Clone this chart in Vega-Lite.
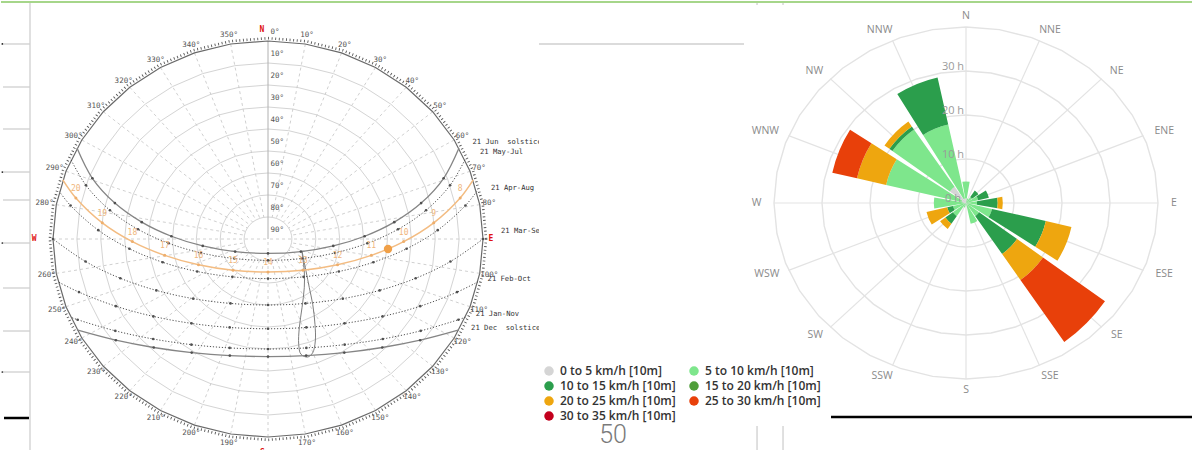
{
"$schema":"https://vega.github.io/schema/vega-lite/v6.json",
"padding":0,"background":"white","bounds":"flush","spacing":200,
"config":{"view":{"stroke":null}},
"resolve":{"scale":{"color":"independent","size":"independent","x":"independent","y":"independent"},"legend":{"color":"independent"}},
"datasets":{
"paths":[
{"c":"jun","h":-104.5,"x":79.95,"y":41.34},{"c":"jun","h":-90,"x":73.52,"y":27.6},{"c":"jun","h":-75,"x":64.1,"y":16.33},{"c":"jun","h":-60,"x":52.85,"y":7.66},{"c":"jun","h":-45,"x":40.45,"y":1.25},{"c":"jun","h":-30,"x":27.32,"y":-3.14},{"c":"jun","h":-15,"x":13.76,"y":-5.72},{"c":"jun","h":0,"x":0,"y":-6.56},{"c":"jun","h":15,"x":-13.76,"y":-5.72},{"c":"jun","h":30,"x":-27.32,"y":-3.14},{"c":"jun","h":45,"x":-40.45,"y":1.25},{"c":"jun","h":60,"x":-52.85,"y":7.66},{"c":"jun","h":75,"x":-64.1,"y":16.33},{"c":"jun","h":90,"x":-73.52,"y":27.6},{"c":"jun","h":104.5,"x":-79.95,"y":41.34},
{"c":"may","h":-102.3,"x":82.46,"y":36.05},{"c":"may","h":-90,"x":76.2,"y":24.41},{"c":"may","h":-75,"x":66.16,"y":13.07},{"c":"may","h":-60,"x":54.4,"y":4.41},{"c":"may","h":-45,"x":41.56,"y":-1.95},{"c":"may","h":-30,"x":28.03,"y":-6.32},{"c":"may","h":-15,"x":14.1,"y":-8.87},{"c":"may","h":0,"x":0,"y":-9.7},{"c":"may","h":15,"x":-14.1,"y":-8.87},{"c":"may","h":30,"x":-28.03,"y":-6.32},{"c":"may","h":45,"x":-41.56,"y":-1.95},{"c":"may","h":60,"x":-54.4,"y":4.41},{"c":"may","h":75,"x":-66.16,"y":13.07},{"c":"may","h":90,"x":-76.2,"y":24.41},{"c":"may","h":102.3,"x":-82.46,"y":36.05},
{"c":"cur","h":-98.9,"x":85.89,"y":26.89},{"c":"cur","h":-90,"x":80.43,"y":18.66,"t":"8"},{"c":"cur","h":-75,"x":69.37,"y":7.37,"t":"9"},{"c":"cur","h":-60,"x":56.77,"y":-1.18,"t":"10"},{"c":"cur","h":-45,"x":43.23,"y":-7.43,"t":"11"},{"c":"cur","h":-30,"x":29.1,"y":-11.7,"t":"12"},{"c":"cur","h":-15,"x":14.63,"y":-14.19,"t":"13"},{"c":"cur","h":0,"x":0,"y":-15,"t":"14"},{"c":"cur","h":15,"x":-14.63,"y":-14.19,"t":"15"},{"c":"cur","h":30,"x":-29.1,"y":-11.7,"t":"16"},{"c":"cur","h":45,"x":-43.23,"y":-7.43,"t":"17"},{"c":"cur","h":60,"x":-56.77,"y":-1.18,"t":"18"},{"c":"cur","h":75,"x":-69.37,"y":7.37,"t":"19"},{"c":"cur","h":90,"x":-80.43,"y":18.66,"t":"20"},{"c":"cur","h":98.9,"x":-85.89,"y":26.89},
{"c":"apr","h":-97.05,"x":87.36,"y":21.6},{"c":"apr","h":-90,"x":82.64,"y":15.21},{"c":"apr","h":-75,"x":71.03,"y":4.01},{"c":"apr","h":-60,"x":58.0,"y":-4.42},{"c":"apr","h":-45,"x":44.09,"y":-10.57},{"c":"apr","h":-30,"x":29.65,"y":-14.77},{"c":"apr","h":-15,"x":14.89,"y":-17.2},{"c":"apr","h":0,"x":0,"y":-18},{"c":"apr","h":15,"x":-14.89,"y":-17.2},{"c":"apr","h":30,"x":-29.65,"y":-14.77},{"c":"apr","h":45,"x":-44.09,"y":-10.57},{"c":"apr","h":60,"x":-58.0,"y":-4.42},{"c":"apr","h":75,"x":-71.03,"y":4.01},{"c":"apr","h":90,"x":-82.64,"y":15.21},{"c":"apr","h":97.05,"x":-87.36,"y":21.6},
{"c":"mar","h":-90,"x":90,"y":0},{"c":"mar","h":-75,"x":76.37,"y":-10.23},{"c":"mar","h":-60,"x":61.81,"y":-17.85},{"c":"mar","h":-45,"x":46.72,"y":-23.36},{"c":"mar","h":-30,"x":31.3,"y":-27.11},{"c":"mar","h":-15,"x":15.69,"y":-29.28},{"c":"mar","h":0,"x":0,"y":-30},{"c":"mar","h":15,"x":-15.69,"y":-29.28},{"c":"mar","h":30,"x":-31.3,"y":-27.11},{"c":"mar","h":45,"x":-46.72,"y":-23.36},{"c":"mar","h":60,"x":-61.81,"y":-17.85},{"c":"mar","h":75,"x":-76.37,"y":-10.23},{"c":"mar","h":90,"x":-90,"y":0},
{"c":"feb","h":-83.67,"x":87.87,"y":-19.48},{"c":"feb","h":-75,"x":79.13,"y":-24.14},{"c":"feb","h":-60,"x":63.69,"y":-30.54},{"c":"feb","h":-45,"x":47.96,"y":-35.18},{"c":"feb","h":-30,"x":32.05,"y":-38.35},{"c":"feb","h":-15,"x":16.05,"y":-40.2},{"c":"feb","h":0,"x":0,"y":-40.8},{"c":"feb","h":15,"x":-16.05,"y":-40.2},{"c":"feb","h":30,"x":-32.05,"y":-38.35},{"c":"feb","h":45,"x":-47.96,"y":-35.18},{"c":"feb","h":60,"x":-63.69,"y":-30.54},{"c":"feb","h":75,"x":-79.13,"y":-24.14},{"c":"feb","h":83.67,"x":-87.87,"y":-19.48},
{"c":"jan","h":-77.87,"x":82.68,"y":-35.54},{"c":"jan","h":-75,"x":79.7,"y":-36.68},{"c":"jan","h":-60,"x":63.94,"y":-41.73},{"c":"jan","h":-45,"x":48.06,"y":-45.45},{"c":"jan","h":-30,"x":32.08,"y":-48.01},{"c":"jan","h":-15,"x":16.05,"y":-49.5},{"c":"jan","h":0,"x":0,"y":-50},{"c":"jan","h":15,"x":-16.05,"y":-49.5},{"c":"jan","h":30,"x":-32.08,"y":-48.01},{"c":"jan","h":45,"x":-48.06,"y":-45.45},{"c":"jan","h":60,"x":-63.94,"y":-41.73},{"c":"jan","h":75,"x":-79.7,"y":-36.68},{"c":"jan","h":77.87,"x":-82.68,"y":-35.54},
{"c":"dec","h":-75.5,"x":79.95,"y":-41.34},{"c":"dec","h":-60,"x":63.69,"y":-46.0},{"c":"dec","h":-45,"x":47.84,"y":-49.32},{"c":"dec","h":-30,"x":31.93,"y":-51.63},{"c":"dec","h":-15,"x":15.98,"y":-53.0},{"c":"dec","h":0,"x":0,"y":-53.44},{"c":"dec","h":15,"x":-15.98,"y":-53.0},{"c":"dec","h":30,"x":-31.93,"y":-51.63},{"c":"dec","h":45,"x":-47.84,"y":-49.32},{"c":"dec","h":60,"x":-63.69,"y":-46.0},{"c":"dec","h":75.5,"x":-79.95,"y":-41.34}
],
"ana":[
{"o":0,"x":14.23,"y":-5.45},{"o":1,"x":14.78,"y":-8.5},{"o":2,"x":15.91,"y":-14.55},{"o":3,"x":17.29,"y":-22.14},{"o":4,"x":18.71,"y":-29.68},{"o":5,"x":19.67,"y":-38.77},{"o":6,"x":19.8,"y":-46.36},{"o":7,"x":18.71,"y":-51.68},{"o":8,"x":16.62,"y":-53.64},{"o":9,"x":13.81,"y":-52.41},{"o":10,"x":12.85,"y":-47.86},{"o":11,"x":13.1,"y":-40.32},{"o":12,"x":14.23,"y":-31.23},{"o":13,"x":15.19,"y":-22.14},{"o":14,"x":15.19,"y":-14.55},{"o":15,"x":14.52,"y":-8.5},{"o":16,"x":14.23,"y":-5.45}
],
"spokes":[
{"x":15.63,"y":88.63,"x2":1.74,"y2":9.85},{"x":30.78,"y":84.57,"x2":3.42,"y2":9.4},{"x":45,"y":77.94,"x2":5,"y2":8.66},{"x":57.85,"y":68.94,"x2":6.43,"y2":7.66},{"x":68.94,"y":57.85,"x2":7.66,"y2":6.43},{"x":77.94,"y":45,"x2":8.66,"y2":5},{"x":84.57,"y":30.78,"x2":9.4,"y2":3.42},{"x":88.63,"y":15.63,"x2":9.85,"y2":1.74},{"x":90,"y":0,"x2":0,"y2":0},
{"x":88.63,"y":-15.63,"x2":9.85,"y2":-1.74},{"x":84.57,"y":-30.78,"x2":9.4,"y2":-3.42},{"x":77.94,"y":-45,"x2":8.66,"y2":-5},{"x":68.94,"y":-57.85,"x2":7.66,"y2":-6.43},{"x":57.85,"y":-68.94,"x2":6.43,"y2":-7.66},{"x":45,"y":-77.94,"x2":5,"y2":-8.66},{"x":30.78,"y":-84.57,"x2":3.42,"y2":-9.4},{"x":15.63,"y":-88.63,"x2":1.74,"y2":-9.85},{"x":0,"y":-90,"x2":0,"y2":0},
{"x":-15.63,"y":-88.63,"x2":-1.74,"y2":-9.85},{"x":-30.78,"y":-84.57,"x2":-3.42,"y2":-9.4},{"x":-45,"y":-77.94,"x2":-5,"y2":-8.66},{"x":-57.85,"y":-68.94,"x2":-6.43,"y2":-7.66},{"x":-68.94,"y":-57.85,"x2":-7.66,"y2":-6.43},{"x":-77.94,"y":-45,"x2":-8.66,"y2":-5},{"x":-84.57,"y":-30.78,"x2":-9.4,"y2":-3.42},{"x":-88.63,"y":-15.63,"x2":-9.85,"y2":-1.74},{"x":-90,"y":0,"x2":0,"y2":0},
{"x":-88.63,"y":15.63,"x2":-9.85,"y2":1.74},{"x":-84.57,"y":30.78,"x2":-9.4,"y2":3.42},{"x":-77.94,"y":45,"x2":-8.66,"y2":5},{"x":-68.94,"y":57.85,"x2":-7.66,"y2":6.43},{"x":-57.85,"y":68.94,"x2":-6.43,"y2":7.66},{"x":-45,"y":77.94,"x2":-5,"y2":8.66},{"x":-30.78,"y":84.57,"x2":-3.42,"y2":9.4},{"x":-15.63,"y":88.63,"x2":-1.74,"y2":9.85}
],
"azl":[
{"l":"0°","x":2.9,"y":94},{"l":"10°","x":16.32,"y":92.57},{"l":"20°","x":32.15,"y":88.33},{"l":"30°","x":47,"y":81.41},{"l":"40°","x":60.42,"y":72.01},{"l":"50°","x":72.01,"y":60.42},{"l":"60°","x":81.41,"y":47},{"l":"70°","x":88.33,"y":32.15},{"l":"80°","x":92.57,"y":16.32},
{"l":"100°","x":92.57,"y":-16.32},{"l":"110°","x":88.33,"y":-32.15},{"l":"120°","x":81.41,"y":-47},{"l":"130°","x":72.01,"y":-60.42},{"l":"140°","x":60.42,"y":-72.01},{"l":"150°","x":47,"y":-81.41},{"l":"160°","x":32.15,"y":-88.33},{"l":"170°","x":16.32,"y":-92.57},
{"l":"190°","x":-16.32,"y":-92.57},{"l":"200°","x":-32.15,"y":-88.33},{"l":"210°","x":-47,"y":-81.41},{"l":"220°","x":-60.42,"y":-72.01},{"l":"230°","x":-72.01,"y":-60.42},{"l":"240°","x":-81.41,"y":-47},{"l":"250°","x":-88.33,"y":-32.15},{"l":"260°","x":-92.57,"y":-16.32},
{"l":"280°","x":-93.5,"y":16.32},{"l":"290°","x":-89.3,"y":32.15},{"l":"300°","x":-81.41,"y":47},{"l":"310°","x":-72.01,"y":60.42},{"l":"320°","x":-60.42,"y":72.01},{"l":"330°","x":-47,"y":81.41},{"l":"340°","x":-32.15,"y":88.33},{"l":"350°","x":-16.32,"y":92.57}
],
"altl":[
{"l":"10°","x":1.0,"y":84.1},{"l":"20°","x":1.0,"y":74.1},{"l":"30°","x":1.0,"y":64.1},{"l":"40°","x":1.0,"y":54.1},{"l":"50°","x":1.0,"y":44.1},{"l":"60°","x":1.0,"y":34.1},{"l":"70°","x":1.0,"y":24.1},{"l":"80°","x":1.0,"y":14.1},{"l":"90°","x":1.0,"y":4.1}
],
"datel":[
{"l":"21 Jun\u00a0\u00a0solstice","x":85.6,"y":44.1},{"l":"21 May-Jul","x":88.7,"y":39.5},{"l":"21 Apr-Aug","x":93.3,"y":23.0},{"l":"21 Mar-Sep","x":97.5,"y":3.6},{"l":"21 Feb-Oct","x":91.9,"y":-18.3},{"l":"21 Jan-Nov","x":87.0,"y":-34.0},{"l":"21 Dec\u00a0\u00a0solstice","x":85.0,"y":-40.3}
],
"dirl":[
{"dir":"N","x":0,"y":42.6},{"dir":"NNE","x":17.5,"y":39.4},{"dir":"NE","x":31.4,"y":30.1},{"dir":"ENE","x":41.3,"y":16.3},{"dir":"E","x":43.3,"y":0},{"dir":"ESE","x":41.3,"y":-16.2},{"dir":"SE","x":31.4,"y":-30.1},{"dir":"SSE","x":17.5,"y":-39.4},{"dir":"S","x":0,"y":-42.4},{"dir":"SSW","x":-17.5,"y":-39.4},{"dir":"SW","x":-31.4,"y":-30.1},{"dir":"WSW","x":-41.5,"y":-16.2},{"dir":"W","x":-43.6,"y":0},{"dir":"WNW","x":-41.8,"y":16.3},{"dir":"NW","x":-31.6,"y":30.1},{"dir":"NNW","x":-18,"y":39.4}
],
"rspokes":[
{"ex":0,"ey":40},{"ex":15.31,"ey":36.96},{"ex":28.28,"ey":28.28},{"ex":36.96,"ey":15.31},{"ex":40,"ey":0},{"ex":36.96,"ey":-15.31},{"ex":28.28,"ey":-28.28},{"ex":15.31,"ey":-36.96},{"ex":0,"ey":-40},{"ex":-15.31,"ey":-36.96},{"ex":-28.28,"ey":-28.28},{"ex":-36.96,"ey":-15.31},{"ex":-40,"ey":0},{"ex":-36.96,"ey":15.31},{"ex":-28.28,"ey":28.28},{"ex":-15.31,"ey":36.96}
],
"wind":[
{"dir":"N","angle":0,"speed":"0 to 5 km/h [10m]","kmh":0,"hours":1.0},
{"dir":"N","angle":0,"speed":"5 to 10 km/h [10m]","kmh":5,"hours":3.7},
{"dir":"NNE","angle":22.5,"speed":"5 to 10 km/h [10m]","kmh":5,"hours":1.0},
{"dir":"NE","angle":45,"speed":"5 to 10 km/h [10m]","kmh":5,"hours":1.6},
{"dir":"NE","angle":45,"speed":"10 to 15 km/h [10m]","kmh":10,"hours":1.7},
{"dir":"ENE","angle":67.5,"speed":"5 to 10 km/h [10m]","kmh":5,"hours":2.7},
{"dir":"ENE","angle":67.5,"speed":"10 to 15 km/h [10m]","kmh":10,"hours":2.4},
{"dir":"E","angle":90,"speed":"5 to 10 km/h [10m]","kmh":5,"hours":2.4},
{"dir":"E","angle":90,"speed":"10 to 15 km/h [10m]","kmh":10,"hours":4.5},
{"dir":"E","angle":90,"speed":"20 to 25 km/h [10m]","kmh":20,"hours":1.1},
{"dir":"ESE","angle":112.5,"speed":"5 to 10 km/h [10m]","kmh":5,"hours":5.8},
{"dir":"ESE","angle":112.5,"speed":"10 to 15 km/h [10m]","kmh":10,"hours":12.0},
{"dir":"ESE","angle":112.5,"speed":"20 to 25 km/h [10m]","kmh":20,"hours":5.7},
{"dir":"SE","angle":135,"speed":"0 to 5 km/h [10m]","kmh":0,"hours":0.5},
{"dir":"SE","angle":135,"speed":"5 to 10 km/h [10m]","kmh":5,"hours":3.0},
{"dir":"SE","angle":135,"speed":"10 to 15 km/h [10m]","kmh":10,"hours":10.1},
{"dir":"SE","angle":135,"speed":"20 to 25 km/h [10m]","kmh":20,"hours":6.9},
{"dir":"SE","angle":135,"speed":"25 to 30 km/h [10m]","kmh":25,"hours":16.5},
{"dir":"SSE","angle":157.5,"speed":"5 to 10 km/h [10m]","kmh":5,"hours":4.6},
{"dir":"SSW","angle":202.5,"speed":"5 to 10 km/h [10m]","kmh":5,"hours":1.0},
{"dir":"SW","angle":225,"speed":"5 to 10 km/h [10m]","kmh":5,"hours":3.5},
{"dir":"SW","angle":225,"speed":"10 to 15 km/h [10m]","kmh":10,"hours":2.0},
{"dir":"SW","angle":225,"speed":"20 to 25 km/h [10m]","kmh":20,"hours":1.4},
{"dir":"WSW","angle":247.5,"speed":"5 to 10 km/h [10m]","kmh":5,"hours":2.9},
{"dir":"WSW","angle":247.5,"speed":"10 to 15 km/h [10m]","kmh":10,"hours":1.3},
{"dir":"WSW","angle":247.5,"speed":"20 to 25 km/h [10m]","kmh":20,"hours":4.6},
{"dir":"W","angle":270,"speed":"0 to 5 km/h [10m]","kmh":0,"hours":0.5},
{"dir":"W","angle":270,"speed":"5 to 10 km/h [10m]","kmh":5,"hours":6.5},
{"dir":"WNW","angle":292.5,"speed":"0 to 5 km/h [10m]","kmh":0,"hours":1.0},
{"dir":"WNW","angle":292.5,"speed":"5 to 10 km/h [10m]","kmh":5,"hours":16.8},
{"dir":"WNW","angle":292.5,"speed":"20 to 25 km/h [10m]","kmh":20,"hours":6.5},
{"dir":"WNW","angle":292.5,"speed":"25 to 30 km/h [10m]","kmh":25,"hours":5.5},
{"dir":"NW","angle":315,"speed":"0 to 5 km/h [10m]","kmh":0,"hours":4.3},
{"dir":"NW","angle":315,"speed":"5 to 10 km/h [10m]","kmh":5,"hours":15.3},
{"dir":"NW","angle":315,"speed":"10 to 15 km/h [10m]","kmh":10,"hours":0.8},
{"dir":"NW","angle":315,"speed":"20 to 25 km/h [10m]","kmh":20,"hours":1.3},
{"dir":"NNW","angle":337.5,"speed":"0 to 5 km/h [10m]","kmh":0,"hours":1.0},
{"dir":"NNW","angle":337.5,"speed":"5 to 10 km/h [10m]","kmh":5,"hours":16.5},
{"dir":"NNW","angle":337.5,"speed":"10 to 15 km/h [10m]","kmh":10,"hours":10.5}
]
},
"hconcat":[
{
"width":538,"height":450,
"encoding":{
"x":{"field":"x","type":"quantitative","scale":{"domain":[-111.76,113.43],"nice":false,"zero":false},"axis":null},
"y":{"field":"y","type":"quantitative","scale":{"domain":[-96.36,108.18],"nice":false,"zero":false},"axis":null}
},
"layer":[
{"data":{"values":[{"zd":10,"x":0,"y":0},{"zd":20,"x":0,"y":0},{"zd":30,"x":0,"y":0},{"zd":40,"x":0,"y":0},{"zd":50,"x":0,"y":0},{"zd":60,"x":0,"y":0},{"zd":70,"x":0,"y":0},{"zd":80,"x":0,"y":0}]},
"mark":{"type":"point","filled":false,"opacity":1,"stroke":"#d4d4d4","strokeWidth":1,"shape":"M1.0859,0L1.0694,0.1736L1.0204,0.342L0.9404,0.5L0.8318,0.6428L0.698,0.766L0.543,0.866L0.3714,0.9397L0.1885,0.9848L0,1L-0.1885,0.9848L-0.3714,0.9397L-0.543,0.866L-0.698,0.766L-0.8318,0.6428L-0.9404,0.5L-1.0204,0.342L-1.0694,0.1736L-1.0859,0L-1.0694,-0.1736L-1.0204,-0.342L-0.9404,-0.5L-0.8318,-0.6428L-0.698,-0.766L-0.543,-0.866L-0.3714,-0.9397L-0.1885,-0.9848L0,-1L0.1885,-0.9848L0.3714,-0.9397L0.543,-0.866L0.698,-0.766L0.8318,-0.6428L0.9404,-0.5L1.0204,-0.342L1.0694,-0.1736Z"},
"encoding":{"size":{"field":"zd","type":"quantitative","scale":{"type":"pow","exponent":2,"domain":[0,90],"range":[0,156816]},"legend":null}}},
{"data":{"name":"spokes"},"mark":{"type":"rule","stroke":"#c4c4c4","strokeWidth":0.8,"strokeDash":[3,3]},
"encoding":{"x2":{"field":"x2"},"y2":{"field":"y2"}}},
{"data":{"values":[{"x":0,"y":90,"x2":0,"y2":0}]},"mark":{"type":"rule","stroke":"#b0b0b0","strokeWidth":1},
"encoding":{"x2":{"field":"x2"},"y2":{"field":"y2"}}},
{"data":{"values":[{"zd":90,"x":0,"y":0}]},
"mark":{"type":"point","filled":false,"opacity":1,"stroke":"#6a6a6a","strokeWidth":1.2,"shape":"M1.0859,0L1.0694,0.1736L1.0204,0.342L0.9404,0.5L0.8318,0.6428L0.698,0.766L0.543,0.866L0.3714,0.9397L0.1885,0.9848L0,1L-0.1885,0.9848L-0.3714,0.9397L-0.543,0.866L-0.698,0.766L-0.8318,0.6428L-0.9404,0.5L-1.0204,0.342L-1.0694,0.1736L-1.0859,0L-1.0694,-0.1736L-1.0204,-0.342L-0.9404,-0.5L-0.8318,-0.6428L-0.698,-0.766L-0.543,-0.866L-0.3714,-0.9397L-0.1885,-0.9848L0,-1L0.1885,-0.9848L0.3714,-0.9397L0.543,-0.866L0.698,-0.766L0.8318,-0.6428L0.9404,-0.5L1.0204,-0.342L1.0694,-0.1736Z"},
"encoding":{"size":{"field":"zd","type":"quantitative","scale":{"type":"pow","exponent":2,"domain":[0,90],"range":[0,156816]},"legend":null}}},
{"data":{"values":[{"zd":91.3,"x":0,"y":0}]},
"mark":{"type":"point","filled":false,"opacity":1,"stroke":"#555555","strokeWidth":2.6,"strokeDash":[0.9,2.7],"shape":"M1.0859,0L1.0694,0.1736L1.0204,0.342L0.9404,0.5L0.8318,0.6428L0.698,0.766L0.543,0.866L0.3714,0.9397L0.1885,0.9848L0,1L-0.1885,0.9848L-0.3714,0.9397L-0.543,0.866L-0.698,0.766L-0.8318,0.6428L-0.9404,0.5L-1.0204,0.342L-1.0694,0.1736L-1.0859,0L-1.0694,-0.1736L-1.0204,-0.342L-0.9404,-0.5L-0.8318,-0.6428L-0.698,-0.766L-0.543,-0.866L-0.3714,-0.9397L-0.1885,-0.9848L0,-1L0.1885,-0.9848L0.3714,-0.9397L0.543,-0.866L0.698,-0.766L0.8318,-0.6428L0.9404,-0.5L1.0204,-0.342L1.0694,-0.1736Z"},
"encoding":{"size":{"field":"zd","type":"quantitative","scale":{"type":"pow","exponent":2,"domain":[0,90],"range":[0,156816]},"legend":null}}},
{"data":{"name":"ana"},"mark":{"type":"line","stroke":"#6f6f6f","strokeWidth":0.9,"interpolate":"catmull-rom"},
"encoding":{"order":{"field":"o","type":"quantitative"}}},
{"data":{"name":"paths"},"transform":[{"filter":{"field":"c","oneOf":["jun","dec"]}}],
"mark":{"type":"line","stroke":"#858585","strokeWidth":1.3,"interpolate":"catmull-rom"},
"encoding":{"detail":{"field":"c"},"order":{"field":"h","type":"quantitative"}}},
{"data":{"name":"paths"},"transform":[{"filter":{"field":"c","oneOf":["may","apr","mar","feb","jan"]}}],
"mark":{"type":"line","stroke":"#3c3c3c","strokeWidth":0.9,"strokeDash":[1.2,1.8],"interpolate":"catmull-rom"},
"encoding":{"detail":{"field":"c"},"order":{"field":"h","type":"quantitative"}}},
{"data":{"name":"paths"},"transform":[{"filter":{"field":"c","equal":"cur"}}],
"mark":{"type":"line","stroke":"#f3bc82","strokeWidth":1.5,"interpolate":"catmull-rom"},
"encoding":{"order":{"field":"h","type":"quantitative"}}},
{"data":{"name":"paths"},"transform":[{"filter":"datum.c != 'cur' && datum.h % 15 == 0"}],
"mark":{"type":"point","filled":true,"opacity":1,"size":7,"color":"#505050"}},
{"data":{"name":"paths"},"transform":[{"filter":"datum.c == 'cur' && isValid(datum.t)"}],
"mark":{"type":"point","filled":true,"opacity":1,"size":9,"color":"#eeae6c"}},
{"data":{"name":"paths"},"transform":[{"filter":"datum.c == 'cur' && isValid(datum.t)"}],
"mark":{"type":"text","dy":-9,"fontSize":8,"font":"DejaVu Sans Mono","fill":"#f0b67c"},
"encoding":{"text":{"field":"t"}}},
{"data":{"values":[{"x":50.23,"y":-4.55}]},"mark":{"type":"point","filled":true,"opacity":1,"size":70,"color":"#f0a048"}},
{"data":{"name":"azl"},"mark":{"type":"text","fontSize":7.5,"font":"DejaVu Sans Mono","fill":"#555555"},
"encoding":{"text":{"field":"l"}}},
{"data":{"name":"altl"},"mark":{"type":"text","align":"left","fontSize":7.5,"font":"DejaVu Sans Mono","fill":"#555555"},
"encoding":{"text":{"field":"l"}}},
{"data":{"values":[{"l":"N","x":-2.6,"y":95},{"l":"E","x":93.3,"y":-0.1},{"l":"W","x":-97.9,"y":0},{"l":"S","x":-2.3,"y":-97.2}]},
"mark":{"type":"text","fontSize":8,"fontWeight":"bold","font":"DejaVu Sans Mono","fill":"#e01010"},
"encoding":{"text":{"field":"l"}}},
{"data":{"name":"datel"},"mark":{"type":"text","align":"left","clip":true,"fontSize":7.2,"font":"DejaVu Sans Mono","fill":"#333333"},
"encoding":{"text":{"field":"l"}}},
{"data":{"values":[
{"x":-99.62,"y":108.18,"x2":-99.62,"y2":-96.36},
{"x":-110.92,"y":88.64,"x2":-99.62,"y2":88.64},{"x":-110.92,"y":69.09,"x2":-99.62,"y2":69.09},{"x":-110.92,"y":50.0,"x2":-99.62,"y2":50.0},{"x":-110.92,"y":30.45,"x2":-99.62,"y2":30.45},{"x":-110.92,"y":17.73,"x2":-99.62,"y2":17.73},{"x":-110.92,"y":-1.82,"x2":-99.62,"y2":-1.82},{"x":-110.92,"y":-22.27,"x2":-99.62,"y2":-22.27},{"x":-110.92,"y":-41.82,"x2":-99.62,"y2":-41.82},{"x":-110.92,"y":-60.45,"x2":-99.62,"y2":-60.45},
{"x":113.43,"y":88.64,"x2":199.25,"y2":88.64},
{"x":204.69,"y":108.18,"x2":204.69,"y2":106.4},{"x":215.57,"y":108.18,"x2":215.57,"y2":106.4},
{"x":204.69,"y":-85,"x2":204.69,"y2":-96.36},{"x":215.57,"y":-85,"x2":215.57,"y2":-96.36}]},
"mark":{"type":"rule","stroke":"#cfcfcf","strokeWidth":1.3},
"encoding":{"x2":{"field":"x2"},"y2":{"field":"y2"}}},
{"data":{"values":[{"x":-110.5,"y":-81.36,"x2":-100.04,"y2":-81.36},{"x":235.66,"y":-80.91,"x2":387.19,"y2":-80.91}]},
"mark":{"type":"rule","stroke":"#000000","strokeWidth":2.5},
"encoding":{"x2":{"field":"x2"},"y2":{"field":"y2"}}},
{"data":{"values":[{"x":-111.76,"y":107.73,"x2":387.19,"y2":107.73}]},
"mark":{"type":"rule","stroke":"#a6d68a","strokeWidth":2},
"encoding":{"x2":{"field":"x2"},"y2":{"field":"y2"}}},
{"data":{"values":[{"x":-111.2,"y":88.64},{"x":-111.2,"y":30.45},{"x":-111.2,"y":-1.82},{"x":-111.2,"y":-60.45}]},
"mark":{"type":"point","filled":true,"opacity":1,"size":3,"color":"#222222"}},
{"data":{"values":[{"l":"50","x":144.41,"y":-89.3}]},
"mark":{"type":"text","fontSize":25,"font":"Roboto","fontWeight":300,"fill":"#7a7a7a"},
"encoding":{"text":{"field":"l"}}}
]
},
{
"width":454,"height":404,
"layer":[
{"data":{"values":[{"r":10},{"r":20},{"r":30},{"r":40}]},
"mark":{"type":"point","filled":false,"opacity":1,"stroke":"#e3e3e3","strokeWidth":1.4,"shape":"M1.0909,0L1.0743,0.1736L1.0251,0.342L0.9447,0.5L0.8356,0.6428L0.7012,0.766L0.5455,0.866L0.3731,0.9397L0.1894,0.9848L0,1L-0.1894,0.9848L-0.3731,0.9397L-0.5455,0.866L-0.7012,0.766L-0.8356,0.6428L-0.9447,0.5L-1.0251,0.342L-1.0743,0.1736L-1.0909,0L-1.0743,-0.1736L-1.0251,-0.342L-0.9447,-0.5L-0.8356,-0.6428L-0.7012,-0.766L-0.5455,-0.866L-0.3731,-0.9397L-0.1894,-0.9848L0,-1L0.1894,-0.9848L0.3731,-0.9397L0.5455,-0.866L0.7012,-0.766L0.8356,-0.6428L0.9447,-0.5L1.0251,-0.342L1.0743,-0.1736Z"},
"encoding":{"x":{"datum":0,"type":"quantitative","scale":{"domain":[-47.29,47.29],"nice":false,"zero":false},"axis":null},
"y":{"datum":0,"type":"quantitative","scale":{"domain":[-45.91,45.91],"nice":false,"zero":false},"axis":null},
"size":{"field":"r","type":"quantitative","scale":{"type":"pow","exponent":2,"domain":[0,40],"range":[0,123904]},"legend":null}}},
{"data":{"name":"rspokes"},
"mark":{"type":"rule","stroke":"#e3e3e3","strokeWidth":1.2},
"encoding":{"x":{"field":"ex","type":"quantitative","scale":{"domain":[-47.29,47.29],"nice":false,"zero":false},"axis":null},
"y":{"field":"ey","type":"quantitative","scale":{"domain":[-45.91,45.91],"nice":false,"zero":false},"axis":null},
"x2":{"datum":0},"y2":{"datum":0}}},
{"data":{"name":"wind"},
"mark":{"type":"arc","thetaOffset":-0.17,"theta2Offset":0.17},
"encoding":{"theta":{"field":"angle","type":"quantitative","scale":{"domain":[0,360],"range":[0,6.283185307]}},"theta2":{"field":"angle"},
"radius":{"field":"hours","type":"quantitative","stack":"zero","scale":{"type":"linear","domain":[0,40],"range":[0,184],"zero":true,"nice":false}},
"color":{"field":"speed","type":"nominal",
"scale":{"domain":["0 to 5 km/h [10m]","5 to 10 km/h [10m]","10 to 15 km/h [10m]","15 to 20 km/h [10m]","20 to 25 km/h [10m]","25 to 30 km/h [10m]","30 to 35 km/h [10m]"],
"range":["#d5d5d5","#7ee68c","#2b9e4c","#4f9e3a","#eea60f","#e8400a","#c3001d"]},
"legend":{"orient":"none","legendX":-196,"legendY":364,"title":null,"columns":2,"direction":"horizontal","symbolType":"circle","symbolSize":90,"symbolStrokeWidth":0,"labelFont":"Open Sans","labelFontSize":12,"labelFontWeight":600,"labelColor":"#333333","labelOffset":5,"rowPadding":3,"columnPadding":12,"padding":0,"labelLimit":300}},
"order":{"field":"kmh","type":"quantitative","sort":"ascending"}}},
{"data":{"name":"dirl"},
"mark":{"type":"text","font":"Open Sans","fontSize":10.5,"fill":"#8a8a8a"},
"encoding":{"x":{"field":"x","type":"quantitative","scale":{"domain":[-47.29,47.29],"nice":false,"zero":false},"axis":null},
"y":{"field":"y","type":"quantitative","scale":{"domain":[-45.91,45.91],"nice":false,"zero":false},"axis":null},
"text":{"field":"dir"}}},
{"data":{"values":[{"r":0,"l":"0 h"},{"r":10,"l":"10 h"},{"r":20,"l":"20 h"},{"r":30,"l":"30 h"}]},
"mark":{"type":"text","font":"Open Sans","fontSize":11,"fill":"#9a9a9a","dx":-13,"dy":-4},
"encoding":{"x":{"datum":0,"type":"quantitative","scale":{"domain":[-47.29,47.29],"nice":false,"zero":false},"axis":null},
"y":{"field":"r","type":"quantitative","scale":{"domain":[-45.91,45.91],"nice":false,"zero":false},"axis":null},
"text":{"field":"l"}}}
]
}
]
}
